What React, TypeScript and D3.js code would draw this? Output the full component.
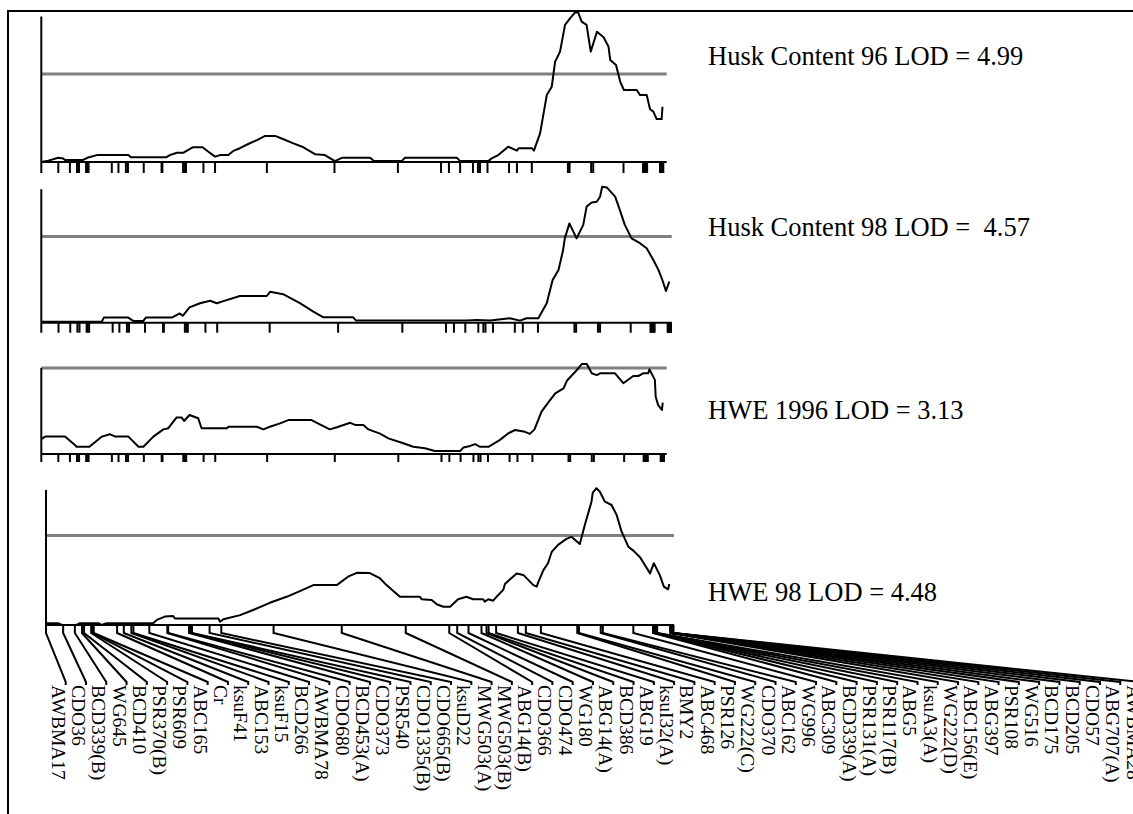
import React from "react";
import * as d3 from "d3";

// ---------- DATA ----------
const markerNames = [
  "AWBMA17", "CDO36", "BCD339(B)", "WG645", "BCD410", "PSR370(B)", "PSR609", "ABC165", "Cr", "ksuF41",
  "ABC153", "ksuF15", "BCD266", "AWBMA78", "CDO680", "BCD453(A)", "CDO373", "PSR540", "CDO1335(B)", "CDO665(B)",
  "ksuD22", "MWG503(A)", "MWG503(B)", "ABG14(B)", "CDO366", "CDO474", "WG180", "ABG14(A)", "BCD386", "ABG19",
  "ksuI32(A)", "BMY2", "ABC468", "PSR126", "WG222(C)", "CDO370", "ABC162", "WG996", "ABC309", "BCD339(A)",
  "PSR131(A)", "PSR117(B)", "ABG5", "ksuA3(A)", "WG222(D)", "ABC156(E)", "ABG397", "PSR108", "WG516", "BCD175",
  "BCD205", "CDO57", "ABG707(A)", "AWBMA28",
];
// marker positions (cM)
const markerCM = [
  0, 4.1, 6.9, 8.6, 9.1, 10.8, 11.1, 11.4, 17.0, 18.6,
  20.4, 20.9, 24.7, 29.0, 29.2, 34.2, 34.6, 34.9, 39.1, 41.9,
  54.4, 70.7, 86.0, 96.4, 98.3, 101.0, 104.1, 105.3, 105.8, 107.6,
  112.8, 114.7, 118.3, 127.0, 127.4, 132.6, 133.1, 140.4, 145.1, 145.3,
  145.5, 145.7, 145.9, 146.1, 149.2, 149.3, 149.4, 149.5, 149.6, 149.7,
  149.8, 149.85, 149.9, 150,
];

const huskContent96: [number, number][] = [
  [0, 0], [1.3, 0.03], [4.1, 0.14], [5.3, 0.12], [5.7, 0.07], [10.1, 0.07], [11.1, 0.14], [13.4, 0.23],
  [21.0, 0.23], [21.6, 0.16], [30.2, 0.16], [31.0, 0.23], [32.7, 0.31], [34.3, 0.31], [36.5, 0.49],
  [38.9, 0.49], [40.3, 0.34], [41.9, 0.18], [43.1, 0.23], [45.1, 0.23], [46.3, 0.37], [47.9, 0.46],
  [49.9, 0.6], [52.0, 0.73], [54.0, 0.87], [56.4, 0.87], [58.4, 0.76], [60.8, 0.62], [63.2, 0.49],
  [66.0, 0.26], [68.4, 0.23], [70.8, 0.03], [72.5, 0.14], [79.3, 0.14], [80.2, 0.03], [86.9, 0.03],
  [87.7, 0.14], [100.2, 0.14], [101.0, 0.03], [107.8, 0.03], [108.6, 0.12], [110.2, 0.23], [112.6, 0.51],
  [114.7, 0.38], [115.1, 0.46], [118.3, 0.46], [118.8, 0.38], [120.3, 0.96], [121.9, 2.23], [123.1, 2.51],
  [123.9, 3.34], [125.1, 3.68], [126.3, 4.57], [127.5, 4.79], [128.7, 4.98], [129.5, 4.98], [130.3, 4.68],
  [131.5, 4.57], [132.5, 3.68], [134.0, 4.34], [135.6, 4.16], [136.8, 3.84], [137.2, 3.4], [138.6, 3.23],
  [139.6, 2.68], [140.5, 2.4], [143.6, 2.4], [144.4, 2.23], [146.0, 2.23], [146.8, 1.76], [147.6, 1.68],
  [148.4, 1.43], [149.6, 1.43], [149.8, 1.84],
];

const huskContent98: [number, number][] = [
  [0, 0.03], [14.4, 0.03], [14.9, 0.17], [20.7, 0.17], [21.9, 0.06], [24.3, 0.06], [24.9, 0.17],
  [31.1, 0.17], [33.0, 0.31], [33.7, 0.23], [35.3, 0.51], [37.8, 0.65], [40.2, 0.73], [41.8, 0.65],
  [43.4, 0.72], [47.3, 0.89], [53.7, 0.89], [54.5, 1.03], [57.6, 0.95], [61.6, 0.65], [64.8, 0.37],
  [67.2, 0.18], [74.3, 0.18], [75.0, 0.07], [101.3, 0.07], [103.7, 0.09], [106.9, 0.07], [111.6, 0.15],
  [114.0, 0.07], [115.6, 0.15], [118.4, 0.15], [120.4, 0.65], [121.8, 1.42], [123.2, 1.76], [124.3, 2.42],
  [124.7, 2.81], [125.8, 3.31], [127.5, 2.81], [129.1, 3.26], [129.9, 3.87], [131.1, 4.01], [132.3, 4.03],
  [133.1, 4.2], [133.6, 4.53], [134.7, 4.51], [136.7, 4.2], [137.8, 3.76], [139.0, 3.26], [140.6, 2.81],
  [142.6, 2.65], [144.2, 2.48], [145.8, 2.09], [147.0, 1.76], [147.8, 1.48], [148.8, 1.06], [149.6, 1.37],
];

const hwe1996: [number, number][] = [
  [0, 0.49], [0.9, 0.58], [5.7, 0.58], [8.1, 0.3], [8.5, 0.24], [11.6, 0.24], [14.6, 0.58], [16.5, 0.66],
  [17.8, 0.58], [21.0, 0.58], [23.4, 0.24], [24.6, 0.24], [27.0, 0.58], [29.4, 0.82], [30.6, 0.86],
  [32.6, 1.22], [33.8, 1.22], [34.4, 1.1], [35.7, 1.3], [37.8, 1.19], [38.6, 0.86], [44.7, 0.86],
  [45.1, 0.91], [51.9, 0.91], [53.5, 0.82], [54.7, 0.89], [57.5, 1.02], [59.5, 1.13], [65.1, 1.13],
  [67.1, 0.99], [69.5, 0.82], [71.2, 0.89], [74.4, 1.04], [75.6, 0.97], [77.6, 0.97], [78.8, 0.82],
  [81.6, 0.68], [83.6, 0.52], [87.2, 0.36], [89.6, 0.24], [92.4, 0.19], [94.8, 0.1], [100.9, 0.1],
  [101.7, 0.22], [103.3, 0.27], [104.5, 0.33], [105.7, 0.24], [107.7, 0.24], [110.5, 0.47], [112.5, 0.69],
  [114.1, 0.8], [116.5, 0.74], [117.7, 0.67], [118.8, 0.82], [120.5, 1.41], [122.1, 1.71], [123.8, 2.02],
  [125.8, 2.19], [126.6, 2.44], [129.4, 2.86], [130.2, 3.0], [131.4, 3.0], [132.6, 2.69], [133.8, 2.63],
  [134.6, 2.69], [138.2, 2.69], [140.2, 2.36], [142.6, 2.6], [143.8, 2.6], [145.0, 2.69], [146.2, 2.69],
  [146.5, 2.82], [147.8, 2.47], [148.0, 1.91], [148.6, 1.63], [149.5, 1.47], [149.7, 1.71],
];

const hwe98: [number, number][] = [
  [0, 0.06], [2.9, 0.06], [3.8, 0], [7.3, 0], [8.1, 0.06], [12.5, 0.06], [13.3, 0], [14.5, 0.06],
  [25.6, 0.06], [26.5, 0.17], [28.4, 0.28], [30.4, 0.3], [30.8, 0.22], [41.2, 0.22], [41.6, 0.11],
  [42.4, 0.19], [46.4, 0.33], [49.5, 0.5], [53.5, 0.74], [57.5, 0.94], [60.7, 1.13], [63.9, 1.33],
  [69.5, 1.33], [72.2, 1.61], [74.3, 1.74], [77.4, 1.73], [79.8, 1.56], [81.4, 1.33], [84.6, 0.94],
  [89.4, 0.94], [89.8, 0.86], [92.2, 0.83], [93.4, 0.69], [95.0, 0.61], [96.6, 0.61], [98.5, 0.86],
  [100.5, 0.94], [102.1, 0.86], [104.5, 0.86], [104.9, 0.78], [105.7, 0.86], [106.9, 0.81], [107.7, 0.94],
  [109.3, 1.17], [109.7, 1.37], [112.5, 1.72], [114.1, 1.67], [116.5, 1.33], [117.3, 1.28], [117.7, 1.44],
  [118.9, 1.83], [120.0, 2.06], [120.9, 2.44], [122.4, 2.67], [124.4, 2.87], [125.6, 2.94], [127.6, 2.7],
  [128.8, 3.33], [130.4, 4.11], [130.7, 4.41], [131.6, 4.56], [132.4, 4.44], [133.6, 4.11], [135.2, 4.0],
  [136.4, 3.67], [137.6, 3.11], [139.2, 2.61], [140.4, 2.48], [142.0, 2.26], [144.4, 1.72], [145.3, 2.06],
  [146.7, 1.67], [147.7, 1.28], [148.7, 1.19], [149.0, 1.37],
];

const traitLabels = [
  "Husk Content 96 LOD = 4.99",
  "Husk Content 98 LOD =  4.57",
  "HWE 1996 LOD = 3.13",
  "HWE 98 LOD = 4.48",
];
const thresholds = [2.93, 2.87, 2.87, 2.98];
const axisTopLod = [4.85, 4.45, 2.87, 4.5];

// ---------- LAYOUT ----------
const W = 1133;
const H = 814;
const PX_PER_LOD = 30;
const CHROM_LEN = 150;
const FONT = "'Liberation Serif', 'Times New Roman', serif";

const series = [huskContent96, huskContent98, hwe1996, hwe98];
const panelLayout = [
  { x0: 41.3, x1: 663.3, axisEnd: 666.7, base: 162, tick: 11, labelY: 65 },
  { x0: 41.3, x1: 671, axisEnd: 671.7, base: 322.7, tick: 10, labelY: 236 },
  { x0: 41.3, x1: 664, axisEnd: 666.7, base: 454, tick: 8, labelY: 419 },
  { x0: 46, x1: 673.5, axisEnd: 674, base: 625, tick: 0, labelY: 601 },
];

const LABEL_X0 = 51.7;
const LABEL_STEP = 20.28;
const LABEL_TOP = 685;

export default function App() {
  const labelScale = d3
    .scaleLinear()
    .domain([0, markerNames.length - 1])
    .range([LABEL_X0, LABEL_X0 + LABEL_STEP * (markerNames.length - 1)]);

  return (
    <svg
      width={W}
      height={H}
      style={{ position: "absolute", left: 0, top: 0, background: "#fff" }}
      fontFamily={FONT}
    >
      <rect x={0} y={0} width={W} height={H} fill="#fff" />
      {/* frame */}
      <line x1={8} y1={11} x2={W} y2={11} stroke="#000" strokeWidth={2} />
      <line x1={8} y1={10} x2={8} y2={H} stroke="#000" strokeWidth={2} />

      {panelLayout.map((p, i) => {
        const x = d3.scaleLinear().domain([0, CHROM_LEN]).range([p.x0, p.x1]);
        const y = d3
          .scaleLinear()
          .domain([0, 1])
          .range([p.base, p.base - PX_PER_LOD]);
        const line = d3
          .line<[number, number]>()
          .x((d) => x(d[0]))
          .y((d) => y(d[1]));
        return (
          <g key={i}>
            <line
              x1={p.x0}
              x2={p.axisEnd}
              y1={y(thresholds[i])}
              y2={y(thresholds[i])}
              stroke="#808080"
              strokeWidth={3}
            />
            <line x1={p.x0} x2={p.x0} y1={y(axisTopLod[i])} y2={p.base} stroke="#000" strokeWidth={2} />
            <line x1={p.x0} x2={p.axisEnd} y1={p.base} y2={p.base} stroke="#000" strokeWidth={2} />
            {p.tick > 0 &&
              markerCM.map((m, j) => (
                <line
                  key={j}
                  x1={x(m)}
                  x2={x(m)}
                  y1={p.base}
                  y2={p.base + p.tick}
                  stroke="#000"
                  strokeWidth={2}
                />
              ))}
            <path d={line(series[i]) || ""} fill="none" stroke="#000" strokeWidth={2} strokeLinejoin="round" />
            <text x={708} y={p.labelY} fontSize={26.5} fill="#000">
              {traitLabels[i].replace(/ /g, "\u00a0")}
            </text>
            {i === 3 &&
              markerCM.map((m, j) => {
                const mx = x(m);
                const lx = labelScale(j);
                const pts: [number, number][] = [
                  [mx, p.base],
                  [mx, p.base + 8],
                  [lx + 14, LABEL_TOP - 3],
                  [lx + 14, LABEL_TOP],
                ];
                return (
                  <g key={j}>
                    <path d={d3.line()(pts) || ""} fill="none" stroke="#000" strokeWidth={2} />
                    <text
                      transform={`translate(${lx},${LABEL_TOP}) rotate(90)`}
                      fontSize={19.5}
                      fill="#000"
                    >
                      {markerNames[j]}
                    </text>
                  </g>
                );
              })}
          </g>
        );
      })}
    </svg>
  );
}
